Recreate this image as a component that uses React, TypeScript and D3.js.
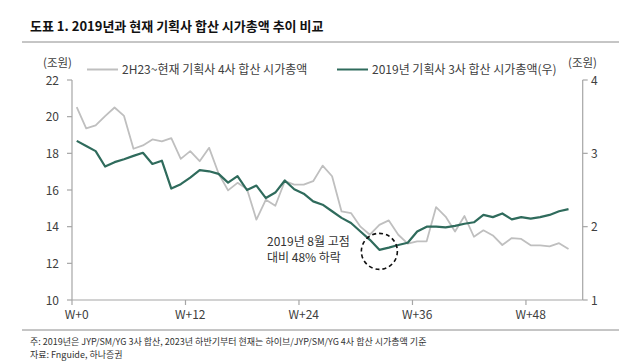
import * as d3 from 'd3';
import React, { useEffect, useRef } from 'react';

// 2H23~현재 기획사 4사 합산 시가총액 (좌, 조원)
const current4 = [
  20.52, 19.36, 19.52, 20.03, 20.5, 20.04, 18.25, 18.43, 18.76, 18.65,
  18.83, 17.7, 18.12, 17.57, 18.3, 16.9, 15.98, 16.39, 16.05, 14.38,
  15.47, 15.14, 16.48, 16.29, 16.29, 16.48, 17.33, 16.75, 14.83, 14.74,
  14.0, 13.56, 14.1, 14.34, 13.56, 13.07, 13.2, 13.2, 15.07, 14.55,
  13.74, 14.58, 13.45, 13.8, 13.52, 13.0, 13.38, 13.33, 12.98, 12.98,
  12.92, 13.1, 12.78,
];
// 2019년 기획사 3사 합산 시가총액 (우, 조원)
const y2019 = [
  3.17, 3.1, 3.03, 2.82, 2.88, 2.92, 2.965, 3.007, 2.855, 2.9,
  2.52, 2.58, 2.67, 2.77, 2.755, 2.72, 2.6, 2.69, 2.5, 2.56,
  2.39, 2.465, 2.63, 2.51, 2.45, 2.345, 2.3, 2.21, 2.12, 2.05,
  1.934, 1.82, 1.684, 1.715, 1.75, 1.78, 1.934, 2.0, 2.0, 1.99,
  2.01, 2.04, 2.06, 2.16, 2.13, 2.18, 2.1, 2.13, 2.11, 2.13,
  2.16, 2.21, 2.24,
];
const weekTicks = [0, 12, 24, 36, 48];
const leftTicks = [10, 12, 14, 16, 18, 20, 22];
const rightTicks = [1, 2, 3, 4];
const peakIndex = 32; // 2019년 저점 주차

const W = 635;
const H = 362;
const plot = { left: 72, right: 582.7, top: 80, bottom: 300 };
const slots = 54;
const font = '"Noto Sans CJK KR", "Noto Sans", sans-serif';
const grayColor = '#bfbfbf';
const greenColor = '#2f6b5c';
const axisColor = '#a6a6a6';
const textColor = '#404040';

function App() {
  const ref = useRef<SVGSVGElement>(null);

  useEffect(() => {
    const svg = d3.select(ref.current);
    svg.selectAll('*').remove();

    const x = d3.scaleLinear().domain([0, slots]).range([plot.left, plot.right]);
    const yL = d3.scaleLinear().domain([10, 22]).range([plot.bottom, plot.top]);
    const yR = d3.scaleLinear().domain([1, 4]).range([plot.bottom, plot.top]);
    const cx = (i: number) => x(i + 0.5);

    // title
    svg.append('text')
      .attr('x', 30).attr('y', 31)
      .attr('font-family', font).attr('font-size', 13).attr('font-weight', 'bold')
      .attr('fill', '#111')
      .text('도표 1. 2019년과 현재 기획사 합산 시가총액 추이 비교');
    svg.append('line')
      .attr('x1', 22).attr('x2', 619).attr('y1', 42).attr('y2', 42)
      .attr('stroke', '#8c8c8c').attr('stroke-width', 1);

    // units
    svg.append('text')
      .attr('x', 43).attr('y', 67)
      .attr('font-family', font).attr('font-size', 11.5).attr('fill', textColor)
      .text('(조원)');
    svg.append('text')
      .attr('x', 568).attr('y', 67)
      .attr('font-family', font).attr('font-size', 11.5).attr('fill', textColor)
      .text('(조원)');

    // legend
    const legend = [
      { label: '2H23~현재 기획사 4사 합산 시가총액', color: grayColor, x: 87 },
      { label: '2019년 기획사 3사 합산 시가총액(우)', color: greenColor, x: 337 },
    ];
    legend.forEach(l => {
      svg.append('line')
        .attr('x1', l.x).attr('x2', l.x + 31).attr('y1', 69.5).attr('y2', 69.5)
        .attr('stroke', l.color).attr('stroke-width', 2);
      svg.append('text')
        .attr('x', l.x + 35).attr('y', 73.5)
        .attr('font-family', font).attr('font-size', 12).attr('fill', textColor)
        .text(l.label);
    });

    // axes
    const axes = svg.append('g').attr('stroke', axisColor).attr('stroke-width', 1.2);
    axes.append('line')
      .attr('x1', plot.left).attr('x2', plot.left).attr('y1', plot.top).attr('y2', plot.bottom);
    axes.append('line')
      .attr('x1', plot.right).attr('x2', plot.right).attr('y1', plot.top).attr('y2', plot.bottom);
    axes.append('line')
      .attr('x1', plot.left).attr('x2', plot.right).attr('y1', plot.bottom).attr('y2', plot.bottom);

    axes.selectAll('.tl').data(leftTicks).enter().append('line')
      .attr('x1', plot.left - 5).attr('x2', plot.left)
      .attr('y1', d => yL(d)).attr('y2', d => yL(d));
    axes.selectAll('.tr').data(rightTicks).enter().append('line')
      .attr('x1', plot.right).attr('x2', plot.right + 5)
      .attr('y1', d => yR(d)).attr('y2', d => yR(d));
    axes.selectAll('.tx').data(weekTicks).enter().append('line')
      .attr('x1', d => x(d)).attr('x2', d => x(d))
      .attr('y1', plot.bottom).attr('y2', plot.bottom + 5);

    svg.selectAll('.ll').data(leftTicks).enter().append('text')
      .attr('x', 59).attr('y', d => yL(d) + 4.5)
      .attr('text-anchor', 'end')
      .attr('font-family', font).attr('font-size', 12).attr('fill', textColor)
      .text(d => d);
    svg.selectAll('.rl').data(rightTicks).enter().append('text')
      .attr('x', 591).attr('y', d => yR(d) + 4.5)
      .attr('font-family', font).attr('font-size', 12).attr('fill', textColor)
      .text(d => d);
    svg.selectAll('.xl').data(weekTicks).enter().append('text')
      .attr('x', d => cx(d)).attr('y', 319)
      .attr('text-anchor', 'middle')
      .attr('font-family', font).attr('font-size', 12).attr('fill', textColor)
      .text(d => `W+${d}`);

    // lines
    const grayLine = d3.line<number>().x((_, i) => cx(i)).y(d => yL(d));
    const greenLine = d3.line<number>().x((_, i) => cx(i)).y(d => yR(d));
    svg.append('path')
      .attr('d', grayLine(current4))
      .attr('fill', 'none').attr('stroke', grayColor).attr('stroke-width', 1.8)
      .attr('stroke-linejoin', 'round');
    svg.append('path')
      .attr('d', greenLine(y2019))
      .attr('fill', 'none').attr('stroke', greenColor).attr('stroke-width', 2.2)
      .attr('stroke-linejoin', 'round');

    // annotation
    svg.append('circle')
      .attr('cx', cx(peakIndex)).attr('cy', yR(y2019[peakIndex]) + 1.5)
      .attr('r', 18)
      .attr('fill', 'none').attr('stroke', '#111').attr('stroke-width', 1.6)
      .attr('stroke-dasharray', '4,3');
    const note = ['2019년 8월 고점', '대비 48% 하락'];
    svg.selectAll('.note').data(note).enter().append('text')
      .attr('x', 267).attr('y', (_, i) => 246 + i * 16)
      .attr('font-family', font).attr('font-size', 12).attr('fill', '#333')
      .text(d => d);

    // footnote
    svg.append('line')
      .attr('x1', 22).attr('x2', 619).attr('y1', 330).attr('y2', 330)
      .attr('stroke', '#8c8c8c').attr('stroke-width', 1);
    const foot = [
      '주: 2019년은 JYP/SM/YG 3사 합산, 2023년 하반기부터 현재는 하이브/JYP/SM/YG 4사 합산 시가총액 기준',
      '자료: Fnguide, 하나증권',
    ];
    svg.selectAll('.foot').data(foot).enter().append('text')
      .attr('x', 30).attr('y', (_, i) => 344.5 + i * 13)
      .attr('font-family', font).attr('font-size', 9).attr('fill', '#333')
      .text(d => d);
  }, []);

  return (
    <svg ref={ref} width={W} height={H}
      style={{ position: 'absolute', left: 0, top: 0, background: '#fff' }} />
  );
}

export default App;
